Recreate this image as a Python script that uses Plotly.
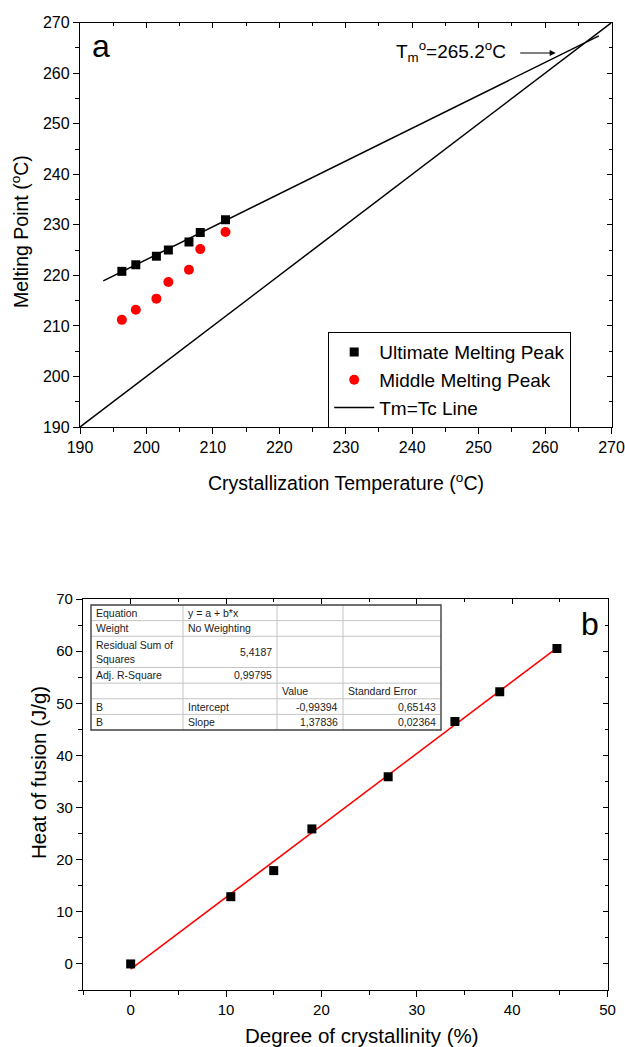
import plotly.graph_objects as go

# ---------------- data: chart a ----------------
tc_a = [196.3, 198.4, 201.5, 203.3, 206.4, 208.1, 211.9]
tm_ultimate = [220.8, 222.1, 223.8, 225.0, 226.6, 228.5, 231.0]
tm_middle = [211.2, 213.2, 215.4, 218.7, 221.1, 225.2, 228.6]
fit_a_x = [193.5, 268.1]
fit_a_y = [218.9, 267.4]
tmtc_x = [190, 270]
tmtc_y = [190, 270]
xticks_a = [190, 200, 210, 220, 230, 240, 250, 260, 270]
yticks_a = [190, 200, 210, 220, 230, 240, 250, 260, 270]

# ---------------- data: chart b ----------------
crystallinity = [0.0, 10.5, 15.0, 19.0, 27.0, 34.0, 38.7, 44.7]
heat_fusion = [0.0, 12.9, 17.9, 25.9, 35.9, 46.5, 52.2, 60.5]
fit_intercept = -0.99394
fit_slope = 1.37836
fit_b_x = [0.0, 44.7]
xticks_b = [0, 10, 20, 30, 40, 50]
yticks_b = [0, 10, 20, 30, 40, 50, 60, 70]

table_rows = [
    ["Equation", "y = a + b*x", "", ""],
    ["Weight", "No Weighting", "", ""],
    ["Residual Sum of<br>Squares", "5,4187", "", ""],
    ["Adj. R-Square", "0,99795", "", ""],
    ["", "", "Value", "Standard Error"],
    ["B", "Intercept", "-0,99394", "0,65143"],
    ["B", "Slope", "1,37836", "0,02364"],
]
table_align = [
    ["left", "left", "left", "left"],
    ["left", "left", "left", "left"],
    ["left", "right", "left", "left"],
    ["left", "right", "left", "left"],
    ["left", "left", "left", "left"],
    ["left", "left", "right", "right"],
    ["left", "left", "right", "right"],
]

W, H = 625, 1047
FONT = "Liberation Sans, Arial, sans-serif"


def px(p):
    return p / W


def py(p):
    return 1 - p / H


fig = go.Figure()

# chart a traces
fig.add_trace(go.Scatter(x=tmtc_x, y=tmtc_y, mode="lines", name="Tm=Tc Line",
                         line=dict(color="black", width=1.5), legendrank=3,
                         xaxis="x", yaxis="y"))
fig.add_trace(go.Scatter(x=fit_a_x, y=fit_a_y, mode="lines", showlegend=False,
                         line=dict(color="black", width=1.5), xaxis="x", yaxis="y"))
fig.add_trace(go.Scatter(x=tc_a, y=tm_ultimate, mode="markers", name="Ultimate Melting Peak",
                         marker=dict(symbol="square", size=9, color="black"), legendrank=1,
                         xaxis="x", yaxis="y"))
fig.add_trace(go.Scatter(x=tc_a, y=tm_middle, mode="markers", name="Middle Melting Peak",
                         marker=dict(symbol="circle", size=10, color="#ff0000"), legendrank=2,
                         xaxis="x", yaxis="y"))

# chart b traces
fit_b_y = [fit_intercept + fit_slope * v for v in fit_b_x]
fig.add_trace(go.Scatter(x=fit_b_x, y=fit_b_y, mode="lines", showlegend=False,
                         line=dict(color="#ff0000", width=1.5), xaxis="x2", yaxis="y2"))
fig.add_trace(go.Scatter(x=crystallinity, y=heat_fusion, mode="markers", showlegend=False,
                         marker=dict(symbol="square", size=9, color="black"),
                         xaxis="x2", yaxis="y2"))

# empty traces for mirrored inner-tick axes
for xa, ya in [("x3", "y"), ("x", "y3"), ("x4", "y2"), ("x2", "y4")]:
    fig.add_trace(go.Scatter(x=[], y=[], xaxis=xa, yaxis=ya, showlegend=False, hoverinfo="skip"))

dom_xa = [px(80), px(611.5)]
dom_ya = [py(427), py(22.7)]
dom_xb = [px(83), px(607.5)]
dom_yb = [py(990), py(599)]

tickfont_a = dict(family=FONT, size=16, color="black")
tickfont_b = dict(family=FONT, size=15, color="black")

base = dict(showline=True, linecolor="black", linewidth=1.3, showgrid=False,
            zeroline=False, ticks="outside", ticklen=6, tickwidth=1.3, tickcolor="black",
            automargin=False, mirror=True)


def inner(**kw):
    d = dict(showline=False, showgrid=False, zeroline=False, ticks="inside", ticklen=5,
             tickwidth=1.1, tickcolor="black", showticklabels=False, automargin=False)
    d.update(kw)
    return d


minor_out = dict(dtick=5, ticks="outside", ticklen=3.5, tickcolor="black")
minor_in = dict(dtick=5, ticks="inside", ticklen=3, tickcolor="black")

fig.update_layout(
    width=W, height=H, margin=dict(l=0, r=0, t=0, b=0),
    paper_bgcolor="white", plot_bgcolor="white",
    font=dict(family=FONT, color="black"),
    showlegend=True,
    xaxis=dict(base, domain=dom_xa, range=[190, 270], anchor="y", tickvals=xticks_a,
               tickfont=tickfont_a, minor=minor_out),
    yaxis=dict(base, domain=dom_ya, range=[190, 270], anchor="x", tickvals=yticks_a,
               tickfont=tickfont_a, minor=minor_out),
    xaxis3=inner(overlaying="x", side="top", anchor="y", range=[190, 270], tickvals=xticks_a,
                 minor=minor_in),
    yaxis3=inner(overlaying="y", side="right", anchor="x", range=[190, 270], tickvals=yticks_a,
                 minor=minor_in),
    xaxis2=dict(base, domain=dom_xb, range=[-5, 50], anchor="y2", tickvals=xticks_b,
                tickfont=tickfont_b, minor=minor_out),
    yaxis2=dict(base, domain=dom_yb, range=[-5, 70], anchor="x2", tickvals=yticks_b,
                tickfont=tickfont_b, minor=minor_out),
    xaxis4=inner(overlaying="x2", side="top", anchor="y2", range=[-5, 50], tickvals=xticks_b,
                 minor=minor_in),
    yaxis4=inner(overlaying="y2", side="right", anchor="x2", range=[-5, 70], tickvals=yticks_b,
                 minor=minor_in),
    legend=dict(x=px(328), y=py(332), xanchor="left", yanchor="top",
                bordercolor="black", borderwidth=1.2, bgcolor="white",
                font=dict(family=FONT, size=19, color="black"),
                tracegroupgap=0, itemwidth=40),
)


def label(xp, yp, text, size, angle=0):
    return dict(x=px(xp), y=py(yp), xref="paper", yref="paper", text=text,
                showarrow=False, xanchor="center", yanchor="middle", textangle=angle,
                font=dict(family=FONT, size=size, color="black"))


annotations = [
    label(346, 482, "Crystallization Temperature (<sup>o</sup>C)", 19.5),
    label(20, 232, "Melting Point (<sup>o</sup>C)", 19.5, -90),
    label(362, 1035, "Degree of crystallinity (%)", 20.5),
    label(38, 773, "Heat of fusion (J/g)", 20.5, -90),
    label(101, 46, "a", 32),
    label(590, 624, "b", 32),
    dict(x=254.4, y=264.3, xref="x", yref="y", xanchor="right", yanchor="middle",
         text="T<sub>m</sub><sup>o</sup>=265.2<sup>o</sup>C", showarrow=False,
         font=dict(family=FONT, size=19, color="black")),
    dict(x=261.6, y=264.0, xref="x", yref="y", text="", showarrow=True,
         ax=-37, ay=0, arrowhead=2, arrowsize=1, arrowwidth=1.2, arrowcolor="black"),
]

# ---------------- table in chart b ----------------
col_edges = [91, 183, 277, 343, 441]
row_units = [1, 1, 2, 1, 1, 1, 1]
top, bottom = 605, 730
unit = (bottom - top) / sum(row_units)
row_edges = [top]
for u in row_units:
    row_edges.append(row_edges[-1] + u * unit)

shapes = []
shapes.append(dict(type="rect", xref="paper", yref="paper",
                   x0=px(col_edges[0]), x1=px(col_edges[-1]), y0=py(bottom), y1=py(top),
                   fillcolor="white", line=dict(width=0), layer="above"))
for ce in col_edges[1:-1]:
    shapes.append(dict(type="line", xref="paper", yref="paper", x0=px(ce), x1=px(ce),
                       y0=py(bottom), y1=py(top), line=dict(color="#c4c4c4", width=1), layer="above"))
for re_ in row_edges[1:-1]:
    shapes.append(dict(type="line", xref="paper", yref="paper", x0=px(col_edges[0]), x1=px(col_edges[-1]),
                       y0=py(re_), y1=py(re_), line=dict(color="#c4c4c4", width=1), layer="above"))
shapes.append(dict(type="rect", xref="paper", yref="paper",
                   x0=px(col_edges[0]), x1=px(col_edges[-1]), y0=py(bottom), y1=py(top),
                   line=dict(color="#404040", width=1.4), layer="above"))

for ri, row in enumerate(table_rows):
    yc = (row_edges[ri] + row_edges[ri + 1]) / 2
    for ci, txt in enumerate(row):
        if not txt:
            continue
        al = table_align[ri][ci]
        if al == "left":
            xx, anc = px(col_edges[ci] + 3), "left"
        else:
            xx, anc = px(col_edges[ci + 1] - 3), "right"
        annotations.append(dict(x=xx, y=py(yc), xref="paper", yref="paper", text=txt,
                                showarrow=False, xanchor=anc, yanchor="middle", align=anc,
                                font=dict(family=FONT, size=10.5, color="#222222")))

fig.update_layout(annotations=annotations, shapes=shapes)
fig.write_html("out.html")
